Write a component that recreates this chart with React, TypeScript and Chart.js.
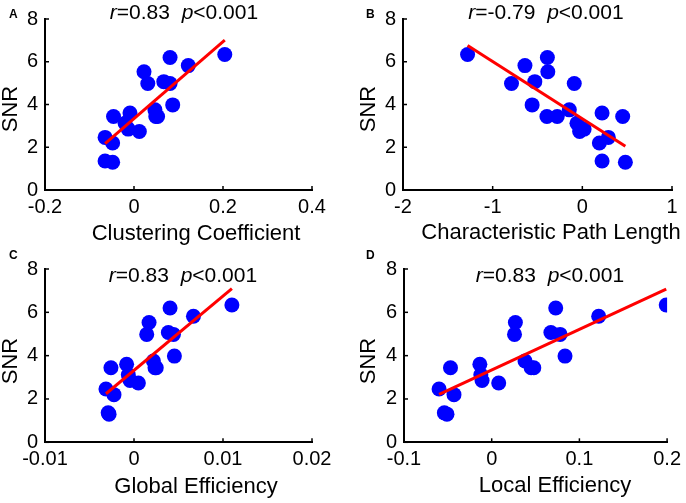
import { useEffect, useRef } from 'react';
import { Chart, registerables, ChartConfiguration, Plugin } from 'chart.js';

Chart.register(...registerables);

// SNR of each subject, same order in all four panels
const snr = [6.34, 6.2, 5.82, 5.53, 5.07, 4.98, 4.98, 3.98, 3.75, 3.6, 3.44, 3.44, 3.44, 3.12, 2.85, 2.74, 2.46, 2.2, 1.36, 1.3];

// network measures, one value per subject
const clustering = [0.204, 0.081, 0.122, 0.0225, 0.067, 0.081, 0.031, 0.087, 0.047, -0.009, -0.046, 0.049, 0.053, -0.02, -0.013, 0.012, -0.065, -0.048, -0.065, -0.048];
const pathLength = [-1.28, -0.39, -0.64, -0.385, -0.53, -0.79, -0.09, -0.56, -0.145, 0.22, 0.45, -0.395, -0.28, -0.06, 0.02, -0.03, 0.29, 0.19, 0.22, 0.48];
const globalEff = [0.011, 0.00405, 0.00668, 0.00169, 0.00386, 0.00443, 0.00143, 0.00454, 0.00218, -0.00083, -0.00259, 0.00236, 0.0025, -0.00064, -0.00045, 0.00049, -0.00315, -0.00225, -0.0029, -0.0028];
const localEff = [0.199, 0.073, 0.122, 0.027, 0.0675, 0.078, 0.026, 0.0836, 0.038, -0.0135, -0.047, 0.045, 0.048, -0.0124, -0.011, 0.008, -0.06, -0.043, -0.054, -0.051];

// tick labels
const snrTicks = [0, 2, 4, 6, 8];
const clusteringTicks = [-0.2, 0, 0.2, 0.4];
const pathTicks = [-2, -1, 0, 1];
const globalTicks = [-0.01, 0, 0.01, 0.02];
const localTicks = [-0.1, 0, 0.1, 0.2];

const FONT = "'Liberation Sans', Arial, Helvetica, sans-serif";

type Panel = {
    letter: string;
    r: string;
    xLabel: string;
    xs: number[];
    xTicks: number[];
    x0: number;
    y0: number;
    height: number;
    left: number;
    right: number;
    top: number;
    bottom: number;
    titleX: number;
    titleY: number;
    xLabelX: number;
    xLabelY: number;
    yLabelX: number;
    yLabelY: number;
    letterX: number;
    letterY: number;
};

const panels: Panel[] = [
    {
        letter: 'A', r: '0.83', xLabel: 'Clustering Coefficient', xs: clustering, xTicks: clusteringTicks,
        x0: 0, y0: 0, height: 250, left: 45, right: 312, top: 16.5, bottom: 190,
        titleX: 184, titleY: 18.5, xLabelX: 196, xLabelY: 234, yLabelX: 11, yLabelY: 109, letterX: 9, letterY: 18,
    },
    {
        letter: 'B', r: '-0.79', xLabel: 'Characteristic Path Length', xs: pathLength, xTicks: pathTicks,
        x0: 343, y0: 0, height: 250, left: 60, right: 329, top: 16.5, bottom: 190,
        titleX: 203, titleY: 19, xLabelX: 208, xLabelY: 233, yLabelX: 25.5, yLabelY: 109, letterX: 23, letterY: 17.5,
    },
    {
        letter: 'C', r: '0.83', xLabel: 'Global Efficiency', xs: globalEff, xTicks: globalTicks,
        x0: 0, y0: 250, height: 253, left: 45, right: 312, top: 18, bottom: 192.3,
        titleX: 183, titleY: 31.7, xLabelX: 196, xLabelY: 237, yLabelX: 11, yLabelY: 111, letterX: 9, letterY: 9,
    },
    {
        letter: 'D', r: '0.83', xLabel: 'Local Efficiency', xs: localEff, xTicks: localTicks,
        x0: 343, y0: 250, height: 253, left: 61, right: 328, top: 18, bottom: 192.3,
        titleX: 207, titleY: 31.7, xLabelX: 212, xLabelY: 236, yLabelX: 25.5, yLabelY: 111, letterX: 23, letterY: 9,
    },
];

// least squares line
const fit = (xs: number[], ys: number[]) => {
    const n = xs.length;
    const mx = xs.reduce((s, v) => s + v, 0) / n;
    const my = ys.reduce((s, v) => s + v, 0) / n;
    let sxy = 0;
    let sxx = 0;
    xs.forEach((x, i) => {
        sxy += (x - mx) * (ys[i] - my);
        sxx += (x - mx) * (x - mx);
    });
    const b = sxy / sxx;
    return { a: my - b * mx, b };
};

const ScatterPanel = ({ p }: { p: Panel }) => {
    const canvasRef = useRef<HTMLCanvasElement | null>(null);

    useEffect(() => {
        if (!canvasRef.current) return;

        const { a, b } = fit(p.xs, snr);
        const lo = Math.min(...p.xs);
        const hi = Math.max(...p.xs);

        const annotate: Plugin<'scatter'> = {
            id: 'annotate',
            afterDraw(chart) {
                const ctx = chart.ctx;
                const sx = chart.scales.x;
                const sy = chart.scales.y;
                const { left, bottom } = chart.chartArea;
                ctx.save();

                // inward tick marks
                ctx.strokeStyle = '#000';
                ctx.lineWidth = 1.5;
                sx.ticks.forEach((t) => {
                    const px = sx.getPixelForValue(t.value);
                    ctx.beginPath();
                    ctx.moveTo(px, bottom);
                    ctx.lineTo(px, bottom - 4);
                    ctx.stroke();
                });
                sy.ticks.forEach((t) => {
                    const py = sy.getPixelForValue(t.value);
                    ctx.beginPath();
                    ctx.moveTo(left, py);
                    ctx.lineTo(left + 4, py);
                    ctx.stroke();
                });

                ctx.fillStyle = '#000';

                // r / p text
                const segs: [string, boolean][] = [['r', true], ['=' + p.r + '  ', false], ['p', true], ['<0.001', false]];
                ctx.textBaseline = 'alphabetic';
                ctx.textAlign = 'left';
                const widths = segs.map(([t, it]) => {
                    ctx.font = `${it ? 'italic ' : ''}21px ${FONT}`;
                    return ctx.measureText(t).width;
                });
                let tx = p.titleX - widths.reduce((s, w) => s + w, 0) / 2;
                segs.forEach(([t, it], i) => {
                    ctx.font = `${it ? 'italic ' : ''}21px ${FONT}`;
                    ctx.fillText(t, tx, p.titleY);
                    tx += widths[i];
                });

                // axis labels
                ctx.font = `22px ${FONT}`;
                ctx.textAlign = 'center';
                ctx.textBaseline = 'middle';
                ctx.fillText(p.xLabel, p.xLabelX, p.xLabelY);
                ctx.save();
                ctx.translate(p.yLabelX, p.yLabelY);
                ctx.rotate(-Math.PI / 2);
                ctx.fillText('SNR', 0, 0);
                ctx.restore();

                // panel letter
                ctx.font = `bold 12px ${FONT}`;
                ctx.textAlign = 'left';
                ctx.textBaseline = 'alphabetic';
                ctx.fillText(p.letter, p.letterX, p.letterY);

                ctx.restore();
            },
        };

        const config: ChartConfiguration<'scatter'> = {
            type: 'scatter',
            data: {
                datasets: [
                    {
                        data: [
                            { x: lo, y: a + b * lo },
                            { x: hi, y: a + b * hi },
                        ],
                        showLine: true,
                        borderColor: '#FF0000',
                        borderWidth: 3,
                        pointRadius: 0,
                        order: 0,
                    },
                    {
                        data: p.xs.map((x, i) => ({ x, y: snr[i] })),
                        backgroundColor: '#0000FF',
                        borderWidth: 0,
                        pointRadius: 7.5,
                        order: 1,
                    },
                ],
            },
            options: {
                responsive: false,
                animation: false,
                devicePixelRatio: 1,
                layout: {
                    autoPadding: false,
                    padding: { left: 0, top: p.top, right: 343 - p.right, bottom: 0 },
                },
                plugins: {
                    legend: { display: false },
                    tooltip: { enabled: false },
                },
                scales: {
                    x: {
                        type: 'linear',
                        min: p.xTicks[0],
                        max: p.xTicks[p.xTicks.length - 1],
                        afterBuildTicks: (scale) => {
                            scale.ticks = p.xTicks.map((v) => ({ value: v }));
                        },
                        afterFit: (scale) => {
                            scale.height = p.height - p.bottom;
                        },
                        grid: { display: false, drawTicks: false },
                        border: { display: true, color: '#000', width: 2 },
                        ticks: {
                            padding: 5,
                            color: '#000',
                            font: { family: FONT, size: 20 },
                            maxRotation: 0,
                            callback: (v) => String(v),
                        },
                    },
                    y: {
                        type: 'linear',
                        min: snrTicks[0],
                        max: snrTicks[snrTicks.length - 1],
                        afterBuildTicks: (scale) => {
                            scale.ticks = snrTicks.map((v) => ({ value: v }));
                        },
                        afterFit: (scale) => {
                            scale.width = p.left;
                        },
                        grid: { display: false, drawTicks: false },
                        border: { display: true, color: '#000', width: 2 },
                        ticks: {
                            padding: 7,
                            color: '#000',
                            font: { family: FONT, size: 20 },
                            callback: (v) => String(v),
                        },
                    },
                },
            },
            plugins: [annotate],
        };

        const chart = new Chart(canvasRef.current, config);
        return () => chart.destroy();
    }, [p]);

    return (
        <canvas
            ref={canvasRef}
            width={343}
            height={p.height}
            style={{ position: 'absolute', left: p.x0, top: p.y0, width: 343, height: p.height }}
        />
    );
};

export default function App() {
    return (
        <div style={{ position: 'absolute', left: 0, top: 0, width: 686, height: 503, background: '#fff' }}>
            {panels.map((p) => (
                <ScatterPanel key={p.letter} p={p} />
            ))}
        </div>
    );
}
